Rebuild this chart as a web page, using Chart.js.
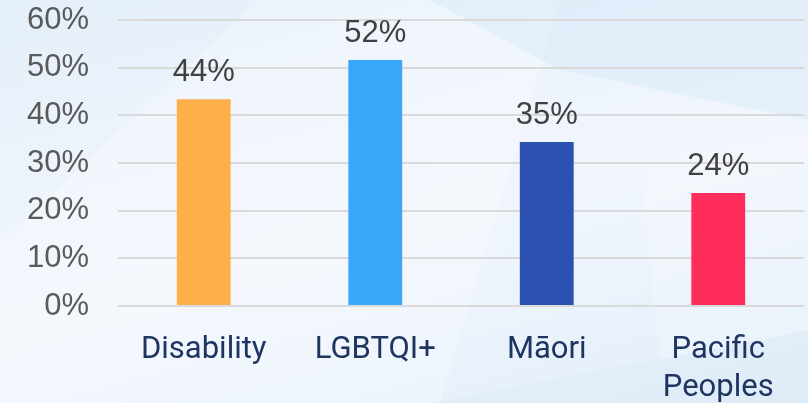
<!DOCTYPE html>
<html>
<head>
<meta charset="utf-8">
<script src="https://cdn.jsdelivr.net/npm/chart.js@4/dist/chart.umd.min.js"></script>
<style>
  html, body { margin: 0; padding: 0; }
  body {
    width: 808px; height: 403px; overflow: hidden; position: relative;
    background: linear-gradient(165deg, #e4eff9 0%, #eef4fc 35%, #f1f6fd 55%, #e2eef9 100%);
  }
  .shape { position: absolute; left: 0; top: 0; width: 808px; height: 403px; }
  .s1 { background: rgba(255,255,255,0.25); clip-path: polygon(0 100%, 0 60%, 260px 0, 560px 0, 440px 403px); }
  .s2 { background: rgba(200,225,245,0.30); clip-path: polygon(430px 0, 808px 0, 808px 120px, 560px 70px); }
  .s3 { background: rgba(210,230,247,0.25); clip-path: polygon(430px 403px, 808px 330px, 808px 403px); }
  .s4 { background: rgba(255,255,255,0.20); clip-path: polygon(640px 160px, 808px 130px, 808px 330px, 660px 360px); }
  #wrap { position: absolute; left: 0; top: 0; width: 808px; height: 403px; }
</style>
</head>
<body>
<div class="shape s1"></div>
<div class="shape s2"></div>
<div class="shape s3"></div>
<div class="shape s4"></div>
<div id="wrap"><canvas id="c" width="808" height="403"></canvas></div>
<script>
const categories = ["Disability", "LGBTQI+", "Māori", ["Pacific", "Peoples"]];
const values = [43.4, 51.6, 34.4, 23.7];
const valueLabels = ["44%", "52%", "35%", "24%"];
const barColors = ["#FDAF4A", "#39A7F9", "#2C52B1", "#FF2D5B"];
const yTicks = [0, 10, 20, 30, 40, 50, 60];

const valueLabelPlugin = {
  id: 'valueLabels',
  afterDatasetsDraw(chart) {
    const ctx = chart.ctx;
    const meta = chart.getDatasetMeta(0);
    ctx.save();
    ctx.font = '31px "Liberation Sans", Arial, sans-serif';
    ctx.fillStyle = '#404040';
    ctx.textAlign = 'center';
    ctx.textBaseline = 'alphabetic';
    meta.data.forEach((bar, i) => {
      ctx.fillText(valueLabels[i], bar.x, bar.y - 18);
    });
    ctx.restore();
  }
};

new Chart(document.getElementById('c'), {
  type: 'bar',
  data: {
    labels: categories,
    datasets: [{
      data: values,
      backgroundColor: barColors,
      borderWidth: 0,
      barPercentage: 0.314,
      categoryPercentage: 1.0
    }]
  },
  options: {
    responsive: false,
    animation: false,
    layout: { padding: { top: 0, right: 4, left: 0, bottom: 0 } },
    plugins: { legend: { display: false }, tooltip: { enabled: false } },
    scales: {
      x: {
        grid: { display: false, drawTicks: false },
        border: { display: false },
        ticks: {
          color: '#1E3461',
          font: { family: 'Roboto', size: 31, lineHeight: 1.24 },
          padding: 25,
          maxRotation: 0,
          autoSkip: false
        },
        afterFit(scale) { scale.height = 97; scale.paddingTop = 0; scale.paddingBottom = 0; }
      },
      y: {
        min: 0, max: 60,
        afterBuildTicks(scale) { scale.ticks = yTicks.map(v => ({ value: v })); },
        grid: { color: '#d9d9d9', lineWidth: 2, drawTicks: false },
        border: { display: false },
        ticks: {
          color: '#595959',
          font: { family: '"Liberation Sans", Arial, sans-serif', size: 31 },
          padding: 29,
          callback: v => v + '%'
        },
        afterFit(scale) { scale.width = 118; scale.paddingTop = 20; scale.paddingBottom = 0; }
      }
    }
  },
  plugins: [valueLabelPlugin]
});
</script>
</body>
</html>
